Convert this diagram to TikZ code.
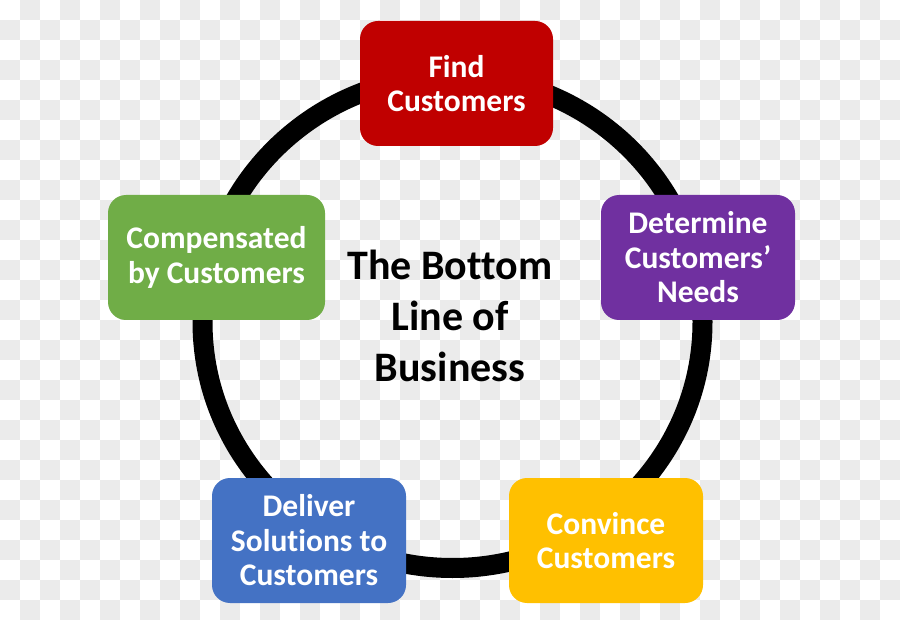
\documentclass[tikz,border=0pt]{standalone}
\usepackage{fontspec}
\setmainfont{Carlito}[Ligatures={NoCommon,NoContextual}]
\definecolor{ckgray}{RGB}{235,235,235}
\definecolor{bred}{RGB}{192,0,0}
\definecolor{bpurple}{RGB}{112,48,160}
\definecolor{bgreen}{RGB}{112,173,71}
\definecolor{bblue}{RGB}{68,114,196}
\definecolor{byellow}{RGB}{255,192,0}
\tikzset{
  stagebox/.style={rounded corners=18pt, minimum height=125pt, text=white,
    font=\fontsize{31.5}{34.5}\selectfont\bfseries, align=center, inner sep=0pt},
  ring/.style={line width=20pt, black},
}
\begin{document}
\begin{tikzpicture}[x=1pt,y=-1pt]
\useasboundingbox (0,0) rectangle (900,620);
\fill[white] (0,0) rectangle (900,620);
\foreach \i in {0,...,44} {
  \foreach \j in {0,...,30} {
    \pgfmathtruncatemacro\ckodd{mod(\i+\j,2)}
    \ifnum\ckodd=1 \fill[ckgray] (\i*20,\j*20) rectangle ++(20,20); \fi
  }
}
\draw[ring] (452.5,322) ellipse [x radius=250pt, y radius=246pt];
\node[stagebox, fill=bred, minimum width=193pt] (find) at (456.5,83.5) {Find\\Customers};
\node[stagebox, fill=bpurple, minimum width=194pt] (determine) at (698,257.5) {Determine\\Customers’\\Needs};
\node[stagebox, fill=byellow, minimum width=194pt] (convince) at (606,540.5) {Convince\\Customers};
\node[stagebox, fill=bblue, minimum width=194pt] (deliver) at (309,540.5) {Deliver\\Solutions to\\Customers};
\node[stagebox, fill=bgreen, minimum width=217pt] (compensated) at (216.5,257.5) {Compensated\\by Customers};
\node[font=\fontsize{42}{51}\selectfont\bfseries, align=center, inner sep=0pt] (center) at (450,316) {The Bottom\\Line of\\Business};
\end{tikzpicture}
\end{document}
